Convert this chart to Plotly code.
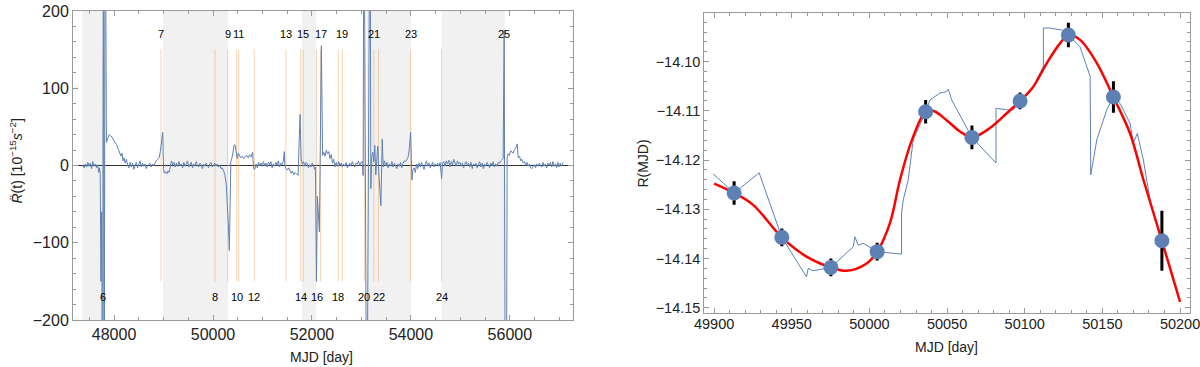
import plotly.graph_objects as go

# ---------------- Left panel data ----------------
series_mjd = [
    47370, 47395, 47420, 47445, 47470, 47495, 47520, 47545, 47570, 47595, 47620, 47645, 47670, 47690, 47705, 47720,
    47735, 47750, 47768, 47785, 47800, 47820, 47845, 47870, 47900, 47930, 47960, 47990, 48020, 48050, 48080, 48110,
    48140, 48160, 48180, 48200, 48225, 48250, 48275, 48300, 48325, 48350, 48375, 48400, 48425, 48450, 48475, 48500,
    48525, 48550, 48575, 48600, 48625, 48650, 48675, 48700, 48725, 48750, 48775, 48800, 48825, 48850, 48880, 48910,
    48935, 48960, 48983, 49000, 49015, 49040, 49065, 49090, 49110, 49135, 49160, 49185, 49210, 49235, 49260, 49285,
    49310, 49335, 49360, 49385, 49410, 49435, 49460, 49485, 49510, 49535, 49560, 49585, 49610, 49635, 49660, 49685,
    49710, 49735, 49760, 49785, 49810, 49835, 49860, 49885, 49910, 49935, 49960, 49985, 50010, 50035, 50060, 50085,
    50110, 50135, 50160, 50185, 50210, 50240, 50270, 50295, 50315, 50330, 50345, 50360, 50380, 50410, 50430, 50450,
    50470, 50490, 50510, 50535, 50560, 50590, 50620, 50650, 50680, 50710, 50740, 50770, 50800, 50820, 50845, 50870,
    50895, 50920, 50945, 50970, 50995, 51020, 51045, 51070, 51095, 51120, 51145, 51170, 51195, 51220, 51245, 51270,
    51295, 51320, 51345, 51370, 51395, 51420, 51440, 51455, 51480, 51505, 51530, 51555, 51580, 51605, 51630, 51660,
    51690, 51720, 51745, 51760, 51780, 51805, 51830, 51855, 51880, 51905, 51930, 51955, 51980, 52005, 52030, 52050,
    52070, 52090, 52110, 52150, 52190, 52215, 52240, 52265, 52290, 52315, 52340, 52365, 52390, 52415, 52440, 52465,
    52490, 52515, 52540, 52565, 52590, 52615, 52640, 52665, 52690, 52715, 52740, 52765, 52790, 52815, 52840, 52865,
    52890, 52915, 52940, 52965, 52990, 53015, 53035, 53050, 53108, 53175, 53190, 53210,
    53230, 53250, 53270, 53290, 53310, 53330, 53350, 53370, 53393, 53420, 53440, 53465, 53490, 53515, 53540, 53565,
    53590, 53615, 53640, 53665, 53690, 53715, 53740, 53765, 53790, 53815, 53840, 53865, 53890, 53915, 53940, 53965,
    53994, 54020, 54040, 54065, 54090, 54115, 54140, 54165, 54190, 54215, 54240, 54265, 54290, 54315, 54340, 54365,
    54390, 54415, 54440, 54465, 54490, 54515, 54540, 54565, 54590, 54620, 54640, 54665, 54690, 54715, 54740, 54765,
    54790, 54815, 54840, 54865, 54890, 54915, 54940, 54965, 54990, 55015, 55040, 55065, 55090, 55115, 55140, 55165,
    55190, 55215, 55240, 55265, 55290, 55315, 55340, 55365, 55390, 55415, 55440, 55465, 55490, 55515, 55540, 55565,
    55590, 55615, 55640, 55665, 55690, 55715, 55740, 55765, 55790, 55815, 55840, 55864, 55885, 55895, 55910, 55925,
    55945, 55965, 55990, 56015, 56040, 56065, 56090, 56115, 56147, 56170, 56195, 56220, 56245, 56270, 56295, 56320,
    56345, 56370, 56395, 56420, 56445, 56470, 56495, 56520, 56545, 56570, 56595, 56620, 56645, 56670, 56695, 56720,
    56745, 56770, 56795, 56820, 56845, 56870, 56895, 56920, 56945, 56970, 56995, 57020, 57045, 57076,
]
series_rdd = [
    0, -3, 2, -2, 4, -1, 3, -4, 5, -1, 2, -3, 1, -9, -3, -10,
    -150, -60, -420, 420, -420, 420, 30, 36, 40, 38, 37, 33, 30, 27, 22, 18,
    12, 16, 6, 10, 3, 8, 0, -3, 4, -2, 3, -5, 1, 4, -3, 2,
    6, -2, 3, -1, 2, -4, 0, 1, 3, -2, 2, 0, 4, 6, 8, 10,
    18, 30, 43, -4, -10, -8, -11, -7, -9, -3, 6, 1, 4, -2, 3, -1,
    5, 0, 2, -3, 4, -1, 3, 6, -2, 1, 4, -3, 2, -1, 5, 0,
    -2, 3, 1, -4, 2, -1, 3, 0, -3, 2, 4, -2, 1, 3, -1, 2,
    -2, 0, -4, -3, -6, -12, -26, -52, -85, -110, -5, 5, 9, 22, 27, 26,
    18, 9, 16, 12, 10, 12, 9, 12, 13, 10, 14, 11, 17, -4, -5, 2,
    -3, 4, 0, 3, -1, 5, 0, 3, -2, 4, 1, 5, -3, 2, -1, 4,
    0, 6, -2, 3, 1, 5, 18, -2, -4, -6, -3, -8, -10, -7, -12, -9,
    -11, -13, 39, 66, 9, 2, 5, -1, 4, 2, -3, 1, -2, 3, 0, -5,
    -2, -150, -40, -86, 155, 13, 17, 12, 20, 15, 18, 9, 14, 3, 8, -2,
    4, -1, 5, 0, 3, -2, 2, -1, 4, -3, 0, 3, -1, 5, 1, -2,
    3, 2, 6, 0, 4, 5, -13, 420, -420, 420, -30, 12,
    17, 5, 26, -12, 8, 25, -8, -35, -52, 34, -2, 6, 0, 4, -3, 2,
    -1, 5, -2, 3, 0, -4, 2, -1, 4, -3, 3, 6, 5, 8, 10, 20,
    43, -19, -6, -3, -9, 2, -4, 3, -2, 4, -1, -5, 2, 6, -1, 3,
    -3, 1, 4, -2, 2, 0, 3, -1, 4, -17, 3, 5, -1, 6, 2, 7,
    -2, 5, 1, 8, 3, -1, 6, 2, 4, -1, 3, -3, 2, 5, 0, 3,
    -2, 4, -4, 2, 0, 3, -3, 1, 5, -2, 3, -4, 2, -1, 4, 1,
    -3, 3, 0, 5, -2, 2, -1, 4, 3, 6, 8, 9, 175, -420, -420, -420,
    10, 15, 13, 19, 17, 16, 20, 22, 28, 10, 12, 6, 8, 3, 5, 0,
    4, -1, 2, -3, -4, -2, 1, -3, 2, -1, 3, 0, -2, 4, -1, 2,
    -3, 3, 0, 4, -2, 5, -1, 2, -3, 4, -2, 3, -1, 4,
]

glitch_ids = list(range(6, 26))
glitch_mjd = [47778, 48949, 50040, 50297, 50479, 50519, 50834, 51474, 51771, 51824,
              52094, 52175, 52531, 52612, 53060, 53250, 53345, 53994, 54620, 55890]
shade_start = [47355, 48990, 51800, 53110, 54620]
shade_end = [47810, 50303, 52085, 54008, 55898]

# ---------------- Right panel data ----------------
obs_mjd = [49912.9, 49943.6, 49975.2, 50005.0, 50036.2, 50066.0, 50097.0, 50128.1, 50157.1, 50188.3]
obs_R = [-14.1267, -14.1357, -14.1418, -14.1386, -14.1102, -14.1154, -14.1080, -14.0946, -14.1072, -14.1364]
obs_err = [0.0024, 0.0018, 0.0018, 0.0018, 0.0024, 0.0024, 0.0017, 0.0025, 0.0032, 0.0061]

fit_mjd = [49900.0, 49912.9, 49925.1, 49943.6, 49959.5, 49975.2, 49985.3, 49998.2, 50005.0, 50013.2,
           50019.7, 50027.4, 50036.2, 50041.0, 50049.7, 50058.3, 50066.0, 50077.6, 50088.4, 50097.0,
           50105.5, 50114.2, 50122.7, 50128.1, 50135.6, 50146.4, 50157.1, 50167.8, 50176.4, 50188.3, 50200.0]
fit_R = [-14.1248, -14.1267, -14.1291, -14.1357, -14.1396, -14.1418, -14.1425, -14.1410, -14.1386, -14.1328,
         -14.1240, -14.1159, -14.1102, -14.1100, -14.1119, -14.1142, -14.1154, -14.1135, -14.1105, -14.1080,
         -14.1051, -14.1003, -14.0963, -14.0946, -14.0956, -14.1003, -14.1072, -14.1146, -14.1240, -14.1364, -14.1488]

model_mjd = [49899.4, 49912.9, 49929.0, 49943.6, 49959.5, 49960.6, 49963.8, 49975.2, 49989.6, 49990.7,
             49992.8, 49996.0, 50005.0, 50020.7, 50020.7, 50021.8, 50025.0, 50028.2, 50036.2, 50039.0,
             50045.4, 50049.7, 50050.8, 50053.0, 50066.0, 50081.5, 50081.5, 50088.4, 50092.7, 50097.0,
             50105.5, 50112.0, 50112.0, 50116.3, 50123.8, 50128.1, 50135.6, 50142.1, 50142.5, 50146.4,
             50152.8, 50157.1, 50161.4, 50167.8, 50169.9, 50172.5, 50176.4, 50180.7]
model_R = [-14.1228, -14.1267, -14.1226, -14.1357, -14.1437, -14.1420, -14.1425, -14.1418, -14.1376, -14.1356,
           -14.1373, -14.1369, -14.1386, -14.1391, -14.1308, -14.1281, -14.1240, -14.1159, -14.1102, -14.1078,
           -14.1064, -14.1061, -14.1056, -14.1078, -14.1154, -14.1206, -14.1095, -14.1098, -14.1098, -14.1080,
           -14.1051, -14.1010, -14.0932, -14.0932, -14.0936, -14.0946, -14.0970, -14.1030, -14.1230, -14.1159,
           -14.1098, -14.1072, -14.1085, -14.1125, -14.1166, -14.1146, -14.1200, -14.1281]

BLUE = "#5E81B5"
FRAME = "#9a9a9a"
FONT = "Liberation Sans, Arial, sans-serif"

fig = go.Figure()

# glitch epoch lines (orange)
gx, gy = [], []
for m in glitch_mjd:
    gx += [m, m, None]
    gy += [-150, 150, None]
fig.add_trace(go.Scatter(x=gx, y=gy, mode="lines", line=dict(color="rgba(240,170,100,0.5)", width=1),
                         xaxis="x", yaxis="y", hoverinfo="skip", showlegend=False))

# time series
fig.add_trace(go.Scatter(x=series_mjd, y=series_rdd, mode="lines", line=dict(color=BLUE, width=1),
                         xaxis="x", yaxis="y", showlegend=False))

# right panel
fig.add_trace(go.Scatter(x=model_mjd, y=model_R, mode="lines", line=dict(color=BLUE, width=1),
                         xaxis="x2", yaxis="y2", showlegend=False))
fig.add_trace(go.Scatter(x=fit_mjd, y=fit_R, mode="lines", line=dict(color="#ff0000", width=2.5, shape="spline"),
                         xaxis="x2", yaxis="y2", showlegend=False))
fig.add_trace(go.Scatter(x=obs_mjd, y=obs_R, mode="markers",
                         marker=dict(color=BLUE, size=15),
                         error_y=dict(type="data", array=obs_err, color="black", thickness=3, width=0),
                         xaxis="x2", yaxis="y2", showlegend=False))

shapes = []
for s, e in zip(shade_start, shade_end):
    shapes.append(dict(type="rect", xref="x", yref="y domain", x0=s, x1=e, y0=0, y1=1,
                       fillcolor="#f1f1f1", line=dict(width=0), layer="below"))

annotations = []
for gid, m in zip(glitch_ids, glitch_mjd):
    annotations.append(dict(x=m, y=170 if gid % 2 else -170, xref="x", yref="y", text=str(gid),
                            showarrow=False, font=dict(size=11, color="black", family=FONT)))

title_common = dict(xref="paper", yref="paper", showarrow=False, xanchor="center", yanchor="middle")
annotations += [
    dict(x=321.7 / 1200, y=1 - 357 / 367, text="MJD [day]",
         font=dict(size=14, color="#222", family=FONT), **title_common),
    dict(x=946.7 / 1200, y=1 - 346.7 / 367, text="MJD [day]",
         font=dict(size=14, color="#222", family=FONT), **title_common),
    dict(x=16.5 / 1200, y=1 - 161 / 367, textangle=-90,
         text="<i>R̈</i>(t) [10<sup>−15</sup><i>s</i><sup>−2</sup>]",
         font=dict(size=14, color="#222", family=FONT), **title_common),
    dict(x=643.3 / 1200, y=1 - 163.3 / 367, textangle=-90,
         text="R(MJD)", font=dict(size=14, color="#222", family=FONT), **title_common),
]

axis_common = dict(showline=True, linecolor=FRAME, linewidth=1, mirror="ticks", ticks="inside",
                   tickcolor=FRAME, ticklen=5, tickwidth=1, showgrid=False,
                   automargin=False, ticklabeloverflow="allow")

fig.update_layout(
    width=1200, height=367,
    margin=dict(l=0, r=0, t=0, b=0, autoexpand=False),
    paper_bgcolor="white", plot_bgcolor="white",
    font=dict(family=FONT, color="#222"),
    shapes=shapes, annotations=annotations,
    xaxis=dict(domain=[73 / 1200, 572.7 / 1200], range=[47170, 57270],
               tickvals=[48000, 50000, 52000, 54000, 56000], tickformat="d", tickfont=dict(size=16),
               zeroline=False,
               minor=dict(dtick=500, tick0=48000, ticks="inside", ticklen=3, tickcolor=FRAME),
               anchor="y", **axis_common),
    yaxis=dict(domain=[1 - 320 / 367, 1 - 11 / 367], range=[-200, 200], dtick=100, tickfont=dict(size=16),
               minor=dict(dtick=20, ticks="inside", ticklen=3, tickcolor=FRAME),
               anchor="x", **axis_common,
               zeroline=True, zerolinecolor="#333", zerolinewidth=1),
    xaxis2=dict(domain=[704.3 / 1200, 1190 / 1200], range=[49893.7, 50206.4], dtick=50, tick0=49900,
                tickformat="d", tickfont=dict(size=14.5), ticklabelstandoff=-2, zeroline=False,
                minor=dict(dtick=10, tick0=49900, ticks="inside", ticklen=3, tickcolor=FRAME),
                anchor="y2", **axis_common),
    yaxis2=dict(domain=[1 - 312.7 / 367, 1 - 13.3 / 367], range=[-14.151, -14.0902], dtick=0.01,
                tick0=-14.15, tickformat=".2f", tickfont=dict(size=14.5), zeroline=False,
                minor=dict(dtick=0.002, tick0=-14.15, ticks="inside", ticklen=3, tickcolor=FRAME),
                anchor="x2", **axis_common),
)

fig.write_html("out.html", config={"displayModeBar": False},
               post_script="document.body.style.margin='0px';document.documentElement.style.overflow='hidden';")
